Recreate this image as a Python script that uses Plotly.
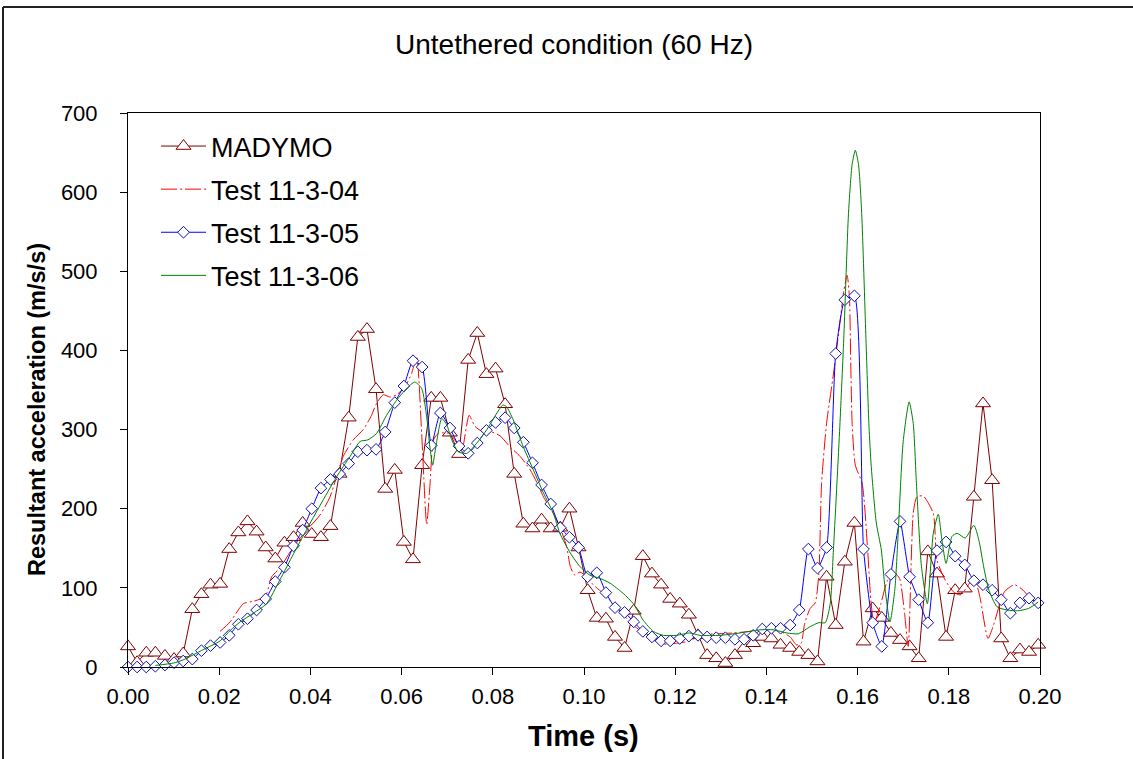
import plotly.graph_objects as go

# ---------------- data ----------------
# sample times of MADYMO and Test 11-3-05 (s)
time_s = [0.0, 0.0020, 0.0040, 0.0060, 0.0081, 0.0101, 0.0121, 0.0141, 0.0161, 0.0181,
          0.0202, 0.0222, 0.0242, 0.0262, 0.0282, 0.0302, 0.0323, 0.0343, 0.0363, 0.0383,
          0.0403, 0.0423, 0.0444, 0.0464, 0.0484, 0.0504, 0.0524, 0.0544, 0.0564, 0.0585,
          0.0605, 0.0625, 0.0645, 0.0665, 0.0685, 0.0706, 0.0726, 0.0746, 0.0766, 0.0786,
          0.0806, 0.0827, 0.0847, 0.0867, 0.0887, 0.0907, 0.0927, 0.0948, 0.0968, 0.0988,
          0.1008, 0.1028, 0.1048, 0.1068, 0.1089, 0.1109, 0.1129, 0.1149, 0.1169, 0.1189,
          0.1210, 0.1230, 0.1250, 0.1270, 0.1290, 0.1310, 0.1331, 0.1351, 0.1371, 0.1391,
          0.1411, 0.1431, 0.1452, 0.1472, 0.1492, 0.1512, 0.1532, 0.1552, 0.1572, 0.1593,
          0.1613, 0.1633, 0.1653, 0.1673, 0.1693, 0.1714, 0.1734, 0.1754, 0.1774, 0.1794,
          0.1814, 0.1835, 0.1855, 0.1875, 0.1895, 0.1915, 0.1935, 0.1956, 0.1976, 0.1996]

madymo = [26, 6, 18, 18, 14, 10, 17, 73, 92, 104,
          105, 149, 170, 184, 171, 151, 137, 157, 164, 182,
          168, 164, 178, 244, 315, 417, 427, 351, 225, 249,
          158, 136, 255, 340, 340, 296, 269, 388, 422, 370,
          377, 332, 244, 181, 175, 186, 175, 176, 200, 151,
          97, 62, 61, 38, 24, 71, 140, 118, 104, 86,
          80, 66, 40, 15, 11, 5, 15, 24, 30, 38,
          36, 28, 24, 19, 15, 7, 114, 53, 133, 182,
          32, 74, 62, 43, 34, 26, 11, 146, 118, 38,
          97, 99, 215, 333, 236, 36, 11, 22, 19, 28]

test_05 = [0, 0, 0, 1, 2.5, 5.5, 7.6, 10, 20.6, 27,
           31, 40, 54, 61, 72, 86, 108, 126, 153, 173,
           200, 226, 237, 244, 257, 272, 274, 275, 297, 334,
           355, 387, 379, 280, 321, 302, 279, 270, 283, 299,
           309, 315, 302, 284, 258, 230, 206, 176, 164, 151,
           114, 119, 94, 75, 69, 57, 45, 38, 33, 33,
           36, 39, 40, 38, 37, 37, 35, 35, 40, 48,
           49, 49, 53, 72, 149, 125, 151, 396, 464, 469,
           149, 56, 26, 117, 184, 114, 85, 56, 147, 158,
           140, 129, 109, 104, 97, 85, 68, 81, 87, 81]

t_04 = [0.0202, 0.0224, 0.0253, 0.0275, 0.0290, 0.0304, 0.0315, 0.0333, 0.0363, 0.0392,
        0.0421, 0.0443, 0.0472, 0.0494, 0.0516, 0.0534, 0.0545, 0.0560, 0.0575, 0.0589,
        0.0607, 0.0622, 0.0633, 0.0644, 0.0655, 0.0662, 0.0670, 0.0680, 0.0692, 0.0706,
        0.0721, 0.0732, 0.0748, 0.0761, 0.0779, 0.0797, 0.0816, 0.0838, 0.0860, 0.0882,
        0.0896, 0.0911, 0.0929, 0.0947, 0.0962, 0.0970, 0.0980, 0.0991, 0.1006, 0.1020,
        0.1042, 0.1064, 0.1086, 0.1108, 0.1130, 0.1152, 0.1174, 0.1203, 0.1232, 0.1254,
        0.1290, 0.1327, 0.1364, 0.1400, 0.1430, 0.1452, 0.1466, 0.1476, 0.1484, 0.1496,
        0.1507, 0.1515, 0.1521, 0.1532, 0.1547, 0.1561, 0.1570, 0.1577, 0.1582, 0.1585,
        0.1588, 0.1595, 0.1610, 0.1622, 0.1629, 0.1636, 0.1651, 0.1666, 0.1682, 0.1692,
        0.1703, 0.1711, 0.1722, 0.1730, 0.1744, 0.1766, 0.1774, 0.1792, 0.1810, 0.1825,
        0.1840, 0.1855, 0.1868, 0.1886, 0.1897, 0.1922, 0.1944, 0.1963, 0.1982, 0.2000]
test_04 = [45, 57, 80, 83, 86, 93, 114, 125, 152, 173,
           192, 215, 266, 287, 300, 318, 333, 344, 341, 344,
           354, 371, 392, 295, 180, 228, 287, 295, 296, 295,
           283, 274, 318, 304, 297, 297, 292, 278, 266, 249,
           234, 215, 198, 177, 152, 127, 116, 120, 114, 104,
           93, 80, 66, 53, 43, 34, 29, 30, 33, 40,
           42, 43, 45, 47, 45, 38, 28, 30, 55, 74,
           81, 118, 232, 308, 370, 434, 476, 495, 468, 384,
           308, 255, 232, 148, 85, 55, 80, 110, 118, 112,
           68, 26, 194, 215, 216, 194, 135, 110, 95, 91,
           101, 114, 89, 36, 51, 95, 104, 97, 85, 82]

t_06 = [0.0060, 0.0100, 0.0121, 0.0165, 0.0202, 0.0224, 0.0246, 0.0275, 0.0304, 0.0333,
        0.0363, 0.0392, 0.0421, 0.0457, 0.0487, 0.0509, 0.0526, 0.0545, 0.0567, 0.0589,
        0.0611, 0.0629, 0.0644, 0.0655, 0.0662, 0.0668, 0.0675, 0.0688, 0.0699, 0.0710,
        0.0724, 0.0743, 0.0765, 0.0787, 0.0809, 0.0822, 0.0830, 0.0845, 0.0867, 0.0889,
        0.0911, 0.0933, 0.0947, 0.0970, 0.0991, 0.1013, 0.1035, 0.1057, 0.1086, 0.1108,
        0.1130, 0.1152, 0.1174, 0.1203, 0.1232, 0.1254, 0.1298, 0.1342, 0.1386, 0.1415,
        0.1445, 0.1470, 0.1496, 0.1515, 0.1529, 0.1540, 0.1547, 0.1561, 0.1570, 0.1580,
        0.1588, 0.1595, 0.1602, 0.1609, 0.1618, 0.1625, 0.1630, 0.1641, 0.1652, 0.1660,
        0.1671, 0.1682, 0.1689, 0.1700, 0.1713, 0.1722, 0.1729, 0.1740, 0.1753, 0.1766,
        0.1777, 0.1785, 0.1794, 0.1807, 0.1818, 0.1836, 0.1855, 0.1866, 0.1877, 0.1888,
        0.1906, 0.1928, 0.1950, 0.1975, 0.1996]
test_06 = [2, 5, 9, 22, 33, 46, 57, 68, 80, 110,
           143, 174, 204, 240, 266, 285, 287, 295, 318, 337,
           352, 360, 352, 316, 278, 255, 278, 314, 306, 287,
           272, 270, 283, 300, 321, 331, 329, 312, 278, 249,
           220, 194, 169, 144, 127, 116, 112, 106, 93, 80,
           59, 45, 40, 40, 43, 40, 40, 43, 47, 47,
           43, 42, 51, 56, 56, 80, 148, 304, 420, 573,
           635, 653, 635, 573, 420, 304, 253, 182, 148, 100,
           57, 100, 169, 285, 335, 308, 232, 127, 80, 169,
           193, 160, 131, 165, 169, 163, 179, 160, 125, 97,
           76, 72, 71, 74, 82]

x_ticks = [0.00, 0.02, 0.04, 0.06, 0.08, 0.10, 0.12, 0.14, 0.16, 0.18, 0.20]
y_ticks = [0, 100, 200, 300, 400, 500, 600, 700]

# ---------------- figure ----------------
W, H = 1133, 759
L, R, T, B = 128, 93, 113, 92
pw, ph = W - L - R, H - T - B


def px(xp):
    return (xp - L) / pw


def py(yp):
    return (H - B - yp) / ph


FONT = "Arial, Liberation Sans, sans-serif"

fig = go.Figure()
fig.add_trace(go.Scatter(
    x=time_s, y=madymo, name="MADYMO", mode="lines+markers",
    line=dict(color="#800000", width=1),
    marker=dict(symbol="triangle-up", size=13, color="white",
                line=dict(color="#800000", width=1)),
    cliponaxis=False, legendgroup="a"))
fig.add_trace(go.Scatter(
    x=t_04, y=test_04, name="Test 11-3-04", mode="lines",
    line=dict(color="#FF0000", width=1, dash="16px,3px,2px,3px",
              shape="spline", smoothing=0.6),
    legendgroup="b"))
fig.add_trace(go.Scatter(
    x=time_s, y=test_05, name="Test 11-3-05", mode="lines+markers",
    line=dict(color="#0000FF", width=1, shape="spline", smoothing=0.5),
    marker=dict(symbol="diamond", size=9, color="white",
                line=dict(color="#1010B0", width=1)),
    cliponaxis=False, legendgroup="c"))
fig.add_trace(go.Scatter(
    x=t_06, y=test_06, name="Test 11-3-06", mode="lines",
    line=dict(color="#008000", width=1, shape="spline", smoothing=0.6),
    legendgroup="d"))

axis_common = dict(showgrid=False, zeroline=False, showline=True, linecolor="black",
                   linewidth=1, mirror=True, ticks="outside", ticklen=7,
                   tickcolor="black", tickfont=dict(family=FONT, size=22, color="black"))

fig.update_xaxes(range=[0, 0.2], tickvals=x_ticks, tickformat=".2f",
                 ticklabelstandoff=3, **axis_common)
fig.update_yaxes(range=[0, 700], tickvals=y_ticks, ticklabelstandoff=18, **axis_common)

fig.update_layout(
    width=W, height=H, autosize=False,
    margin=dict(l=L, r=R, t=T, b=B, pad=0),
    paper_bgcolor="white", plot_bgcolor="white",
    font=dict(family=FONT, color="black"),
    showlegend=True,
    legend=dict(x=px(156), y=py(122), xanchor="left", yanchor="top",
                font=dict(family=FONT, size=27, color="black"),
                bgcolor="rgba(0,0,0,0)", borderwidth=0,
                traceorder="grouped", tracegroupgap=5, itemwidth=45),
    annotations=[
        dict(text="Untethered condition (60 Hz)", x=px(574), y=py(44),
             xref="paper", yref="paper", showarrow=False,
             xanchor="center", yanchor="middle",
             font=dict(family=FONT, size=28, color="black")),
        dict(text="<b>Time (s)</b>", x=px(583), y=py(736),
             xref="paper", yref="paper", showarrow=False,
             xanchor="center", yanchor="middle",
             font=dict(family=FONT, size=29, color="black")),
        dict(text="<b>Resultant acceleration (m/s/s)</b>", x=px(37), y=py(410),
             xref="paper", yref="paper", showarrow=False, textangle=-90,
             xanchor="center", yanchor="middle",
             font=dict(family=FONT, size=23.5, color="black")),
    ],
    shapes=[
        dict(type="line", xref="paper", yref="paper",
             x0=px(3), y0=py(7), x1=px(1145), y1=py(7),
             line=dict(color="#222222", width=2)),
        dict(type="line", xref="paper", yref="paper",
             x0=px(3), y0=py(7), x1=px(3), y1=py(780),
             line=dict(color="#222222", width=2)),
    ],
)

fig.write_html("out.html")
